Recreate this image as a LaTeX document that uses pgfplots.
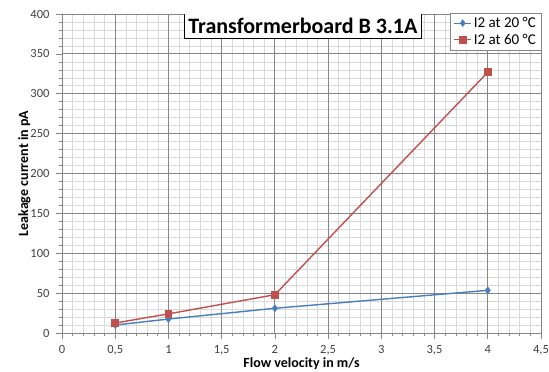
\documentclass[border=0pt]{standalone}
\usepackage{fontspec}
\setmainfont{Carlito}
\usepackage{pgfplots}
\pgfplotsset{compat=1.18}
\definecolor{xlblue}{RGB}{74,126,187}
\definecolor{xlred}{RGB}{192,80,77}
\definecolor{majgrid}{RGB}{134,134,134}
\definecolor{mingrid}{RGB}{217,217,217}
\definecolor{ticktext}{RGB}{64,64,64}
\pgfplotsset{common/.style={
  at={(0pt,0pt)}, anchor=south west,
  scale only axis, width=479pt, height=319pt,
  xmin=0, xmax=4.5, ymin=0, ymax=400,
  xtick={0,0.5,...,4.5}, ytick={0,50,...,400},
  minor x tick num=4, minor y tick num=4,
}}
\begin{document}
\begin{tikzpicture}
\path[use as bounding box] (-62pt,-39pt) rectangle (487pt,333pt);
% minor grid underneath
\begin{axis}[common,
  minor grid style={mingrid, line width=0.6pt},
  xminorgrids=true, yminorgrids=true,
  xmajorgrids=false, ymajorgrids=false,
  axis line style={draw=none}, tick style={draw=none},
  xticklabels={}, yticklabels={},
]
\end{axis}
\begin{axis}[common,
  xmajorgrids=true, ymajorgrids=true,
  major grid style={majgrid, line width=0.8pt},
  axis line style={majgrid, line width=0.8pt},
  tick style={majgrid, line width=0.6pt},
  tick align=outside,
  major tick length=6pt, minor tick length=3pt,
  xtick pos=bottom, ytick pos=left,
  /pgf/number format/use comma,
  /pgf/number format/1000 sep={},
  /pgf/number format/assume math mode=true,
  ticklabel style={font=\fontsize{12.5}{14}\selectfont, text=ticktext},
  yticklabel style={xshift=-3pt},
  xticklabel style={yshift=-3pt},
  xlabel={\bfseries Flow velocity in m/s},
  ylabel={\bfseries Leakage current in pA},
  label style={font=\fontsize{14}{16}\selectfont},
  xlabel style={yshift=4pt},
  ylabel style={yshift=-7pt},
  legend style={at={(rel axis cs:1,1.003)}, anchor=north east,
    draw=majgrid, fill=white,
    nodes={font=\fontsize{15}{18}\selectfont, inner sep=2pt},
    row sep=1pt, inner xsep=3pt, inner ysep=2pt},
  legend image post style={line width=1.2pt},
  legend cell align=left,
]
\addplot[xlblue, line width=1.4pt, mark=diamond*, mark size=2.8pt, mark options={solid}] coordinates {
 (0.5,10) (1,17.5) (2,31) (4,53.5)};
\addlegendentry{I2 at 20 °C}
\addplot[xlred, line width=1.4pt, mark=square*, mark size=3.2pt] coordinates {
 (0.5,12.5) (1,24) (2,48) (4,327)};
\addlegendentry{I2 at 60 °C}
\node[draw=black, line width=1pt, fill=white, anchor=north, inner xsep=4pt, inner ysep=4.5pt,
  font=\fontsize{22}{24}\selectfont\bfseries] at (rel axis cs:0.503,1.003) {Transformerboard B 3.1A};
\end{axis}
\end{tikzpicture}
\end{document}
